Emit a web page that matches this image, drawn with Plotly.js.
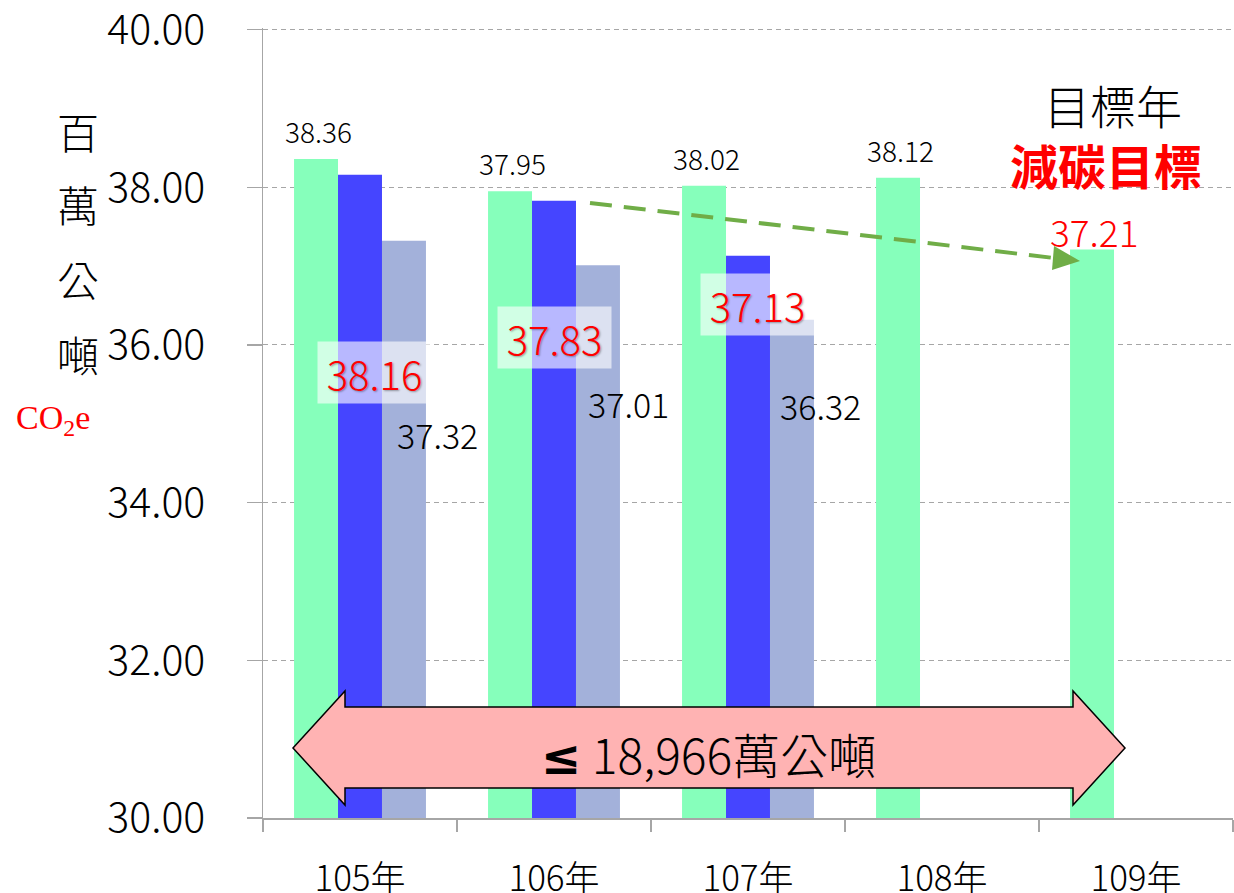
<!DOCTYPE html>
<html>
<head>
<meta charset="utf-8">
<script src="https://cdn.plot.ly/plotly-3.0.1.min.js"></script>
<style>html,body{margin:0;padding:0;background:#fff;}#chart{width:1234px;height:893px;}</style>
</head>
<body>
<div id="chart"></div>
<script>
// ---- data ----
const categories = ['105年', '106年', '107年', '108年', '109年'];
const greenValues = [38.36, 37.95, 38.02, 38.12, 37.21];
const blueValues = [38.16, 37.83, 37.13, null, null];
const lightValues = [37.32, 37.01, 36.32, null, null];
const yTickVals = [30, 32, 34, 36, 38, 40];
const yTickText = ['30.00', '32.00', '34.00', '36.00', '38.00', '40.00'];
const yTitleChars = ['百', '萬', '公', '噸'];
const targetLabel = '目標年';
const targetLabel2 = '減碳目標';
const rangeLabel = '<span style="font-family:\'DejaVu Sans\';font-weight:bold">≤</span> 18,966萬公噸';

// ---- layout helpers (pixel -> paper) ----
const L = 263, R = 1233, T = 28, B = 818;
function px(x) { return (x - L) / (R - L); }
function py(y) { return (B - y) / (B - T); }

const FONT = '"Noto Sans CJK TC", "Noto Sans", sans-serif';
const W = 300;

const traces = [
  { type: 'bar', x: categories, y: greenValues, marker: { color: '#86ffbb' }, hoverinfo: 'skip' },
  { type: 'bar', x: categories, y: blueValues, marker: { color: '#4545ff' }, hoverinfo: 'skip' },
  { type: 'bar', x: categories, y: lightValues, marker: { color: '#a3b1da' }, hoverinfo: 'skip' }
];

const annotations = [];
// green labels above bars
greenValues.forEach((v, i) => {
  const last = i === greenValues.length - 1;
  annotations.push({
    x: categories[i], xref: 'x', xshift: -42,
    y: v, yref: 'y', yshift: last ? 19 : 28, yanchor: 'middle',
    text: v.toFixed(2), showarrow: false,
    font: { family: FONT, weight: W, size: last ? 37 : 28, color: last ? '#ff0000' : '#000' }
  });
});
// blue labels (boxed, red)
const bluePos = [[374, 372], [554, 337], [757, 304]];
blueValues.forEach((v, i) => {
  if (v == null) return;
  annotations.push({
    x: px(bluePos[i][0]), xref: 'paper', y: py(bluePos[i][1]), yref: 'paper',
    text: v.toFixed(2), showarrow: false, xanchor: 'center', yanchor: 'middle',
    width: 105, height: 53, borderpad: 4, bgcolor: 'rgba(255,255,255,0.62)',
    font: { family: FONT, weight: W, size: 40, color: '#ff0000', shadow: '1px 1px 2px rgba(0,0,0,0.35)' }
  });
});
// light labels
const lightPos = [[437, 434], [628, 403], [820, 405]];
lightValues.forEach((v, i) => {
  if (v == null) return;
  annotations.push({
    x: px(lightPos[i][0]), xref: 'paper', y: py(lightPos[i][1]), yref: 'paper',
    text: v.toFixed(2), showarrow: false, xanchor: 'center', yanchor: 'middle',
    font: { family: FONT, weight: W, size: 34, color: '#000' }
  });
});
// y title chars
const yTitleY = [130, 204, 278, 353];
yTitleChars.forEach((c, i) => {
  annotations.push({
    x: px(78), xref: 'paper', y: py(yTitleY[i]), yref: 'paper', xanchor: 'center', yanchor: 'middle',
    text: c, showarrow: false, font: { family: FONT, weight: W, size: 42, color: '#000' }
  });
});
annotations.push({
  x: px(53), xref: 'paper', y: py(420), yref: 'paper', xanchor: 'center', yanchor: 'middle',
  text: 'CO<sub>2</sub>e', showarrow: false,
  font: { family: '"Liberation Serif", "Times New Roman", serif', size: 34, color: '#ff0000' }
});
annotations.push({
  x: px(1113), xref: 'paper', y: py(104), yref: 'paper', xanchor: 'center', yanchor: 'middle',
  text: targetLabel, showarrow: false, font: { family: FONT, weight: W, size: 46, color: '#000' }
});
annotations.push({
  x: px(1106), xref: 'paper', y: py(164), yref: 'paper', xanchor: 'center', yanchor: 'middle',
  text: '<b>' + targetLabel2 + '</b>', showarrow: false, font: { family: FONT, size: 48, color: '#ff0000' }
});
annotations.push({
  x: px(708), xref: 'paper', y: py(753), yref: 'paper', xanchor: 'center', yanchor: 'middle',
  text: rangeLabel, showarrow: false, font: { family: FONT, weight: W, size: 48, color: '#000' }
});

// shapes
function pathFrom(pts) {
  return 'M ' + pts.map(p => px(p[0]) + ',' + py(p[1])).join(' L ') + ' Z';
}
const bigArrow = [[293, 748], [345, 691], [345, 707], [1073, 707], [1073, 691], [1125, 748],
                  [1073, 805], [1073, 788], [345, 788], [345, 805]];
const shapes = [
  { type: 'line', xref: 'paper', yref: 'paper', x0: px(590), y0: py(203), x1: px(1054), y1: py(258),
    line: { color: '#70ad47', width: 4, dash: '22px,12px' } },
  { type: 'path', xref: 'paper', yref: 'paper', path: pathFrom([[1080, 261], [1054, 246], [1052, 270]]),
    fillcolor: '#70ad47', line: { width: 0 } },
  { type: 'path', xref: 'paper', yref: 'paper', path: pathFrom(bigArrow),
    fillcolor: '#ffb3b3', line: { color: '#000', width: 1.5 } }
];

const layout = {
  width: 1234, height: 893,
  margin: { l: L, r: 1234 - R, t: T, b: 893 - B },
  paper_bgcolor: '#fff', plot_bgcolor: '#fff',
  showlegend: false,
  barmode: 'group', bargap: 0.32, bargroupgap: 0,
  font: { family: FONT, color: '#000' },
  xaxis: {
    type: 'category', range: [-0.5, 4.5], tickson: 'boundaries', ticks: 'outside', ticklen: 12,
    tickcolor: '#a6a6a6', tickwidth: 1.5, showline: true, linecolor: '#a6a6a6', linewidth: 1.5,
    showgrid: false, tickfont: { family: FONT, weight: W, size: 35, color: '#000' }, ticklabelstandoff: 29,
    ticklabeloverflow: 'allow'
  },
  yaxis: {
    range: [30, 40.02], tickvals: yTickVals, ticktext: yTickText, ticks: 'outside', ticklen: 15,
    tickcolor: '#a6a6a6', tickwidth: 1.5, showline: true, linecolor: '#a6a6a6', linewidth: 1.5,
    showgrid: true, gridcolor: '#a6a6a6', gridwidth: 1, griddash: '5px,4px', zeroline: false,
    tickfont: { family: FONT, weight: W, size: 41, color: '#000' }, ticklabelstandoff: 33,
    ticklabeloverflow: 'allow'
  },
  annotations: annotations,
  shapes: shapes
};

Plotly.newPlot('chart', traces, layout, { staticPlot: true, displayModeBar: false });
</script>
</body>
</html>
